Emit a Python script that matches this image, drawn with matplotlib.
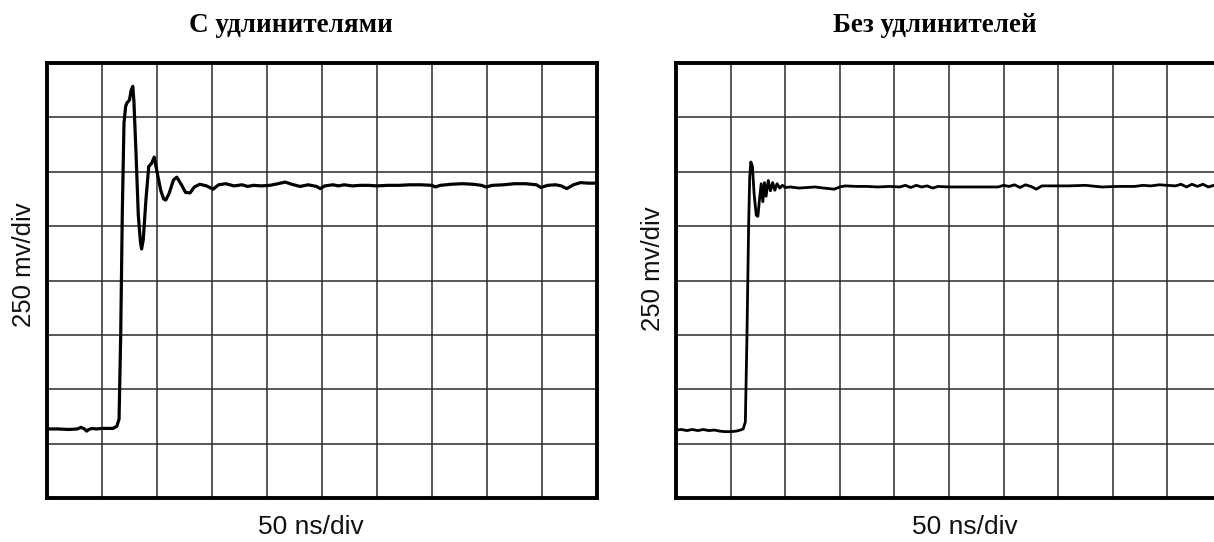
import matplotlib
matplotlib.use('Agg')
import matplotlib.pyplot as plt

# signal traces, in screen divisions (x: 50 ns/div, y: 250 mV/div)
titles = ['С удлинителями', 'Без удлинителей']
x_label = '50 ns/div'
y_label = '250 mv/div'

with_x = [0.0, 0.2, 0.4, 0.55, 0.62, 0.68, 0.72, 0.76, 0.82, 0.9, 1.0, 1.1, 1.2, 1.27,
          1.31, 1.34, 1.37, 1.40, 1.43, 1.45, 1.50, 1.53, 1.56, 1.58, 1.62, 1.66, 1.70,
          1.72, 1.75, 1.80, 1.85, 1.90, 1.95, 2.00, 2.07, 2.12, 2.16, 2.22, 2.30, 2.36,
          2.45, 2.52, 2.60, 2.68, 2.78, 2.90, 3.02, 3.12, 3.25, 3.40, 3.55, 3.65, 3.75,
          3.90, 4.05, 4.20, 4.33, 4.45, 4.60, 4.75, 4.90, 4.97, 5.05, 5.20, 5.30, 5.40,
          5.55, 5.70, 5.85, 6.00, 6.20, 6.40, 6.60, 6.80, 7.00, 7.06, 7.15, 7.35, 7.55,
          7.75, 7.90, 7.98, 8.10, 8.30, 8.50, 8.70, 8.90, 8.98, 9.10, 9.25, 9.35, 9.45,
          9.57, 9.70, 9.85, 10.0]
with_y = [1.27, 1.27, 1.26, 1.27, 1.30, 1.27, 1.23, 1.26, 1.28, 1.27, 1.28, 1.28, 1.28, 1.32,
          1.45, 3.00, 5.30, 6.90, 7.20, 7.26, 7.32, 7.50, 7.57, 7.30, 6.30, 5.20, 4.70,
          4.58, 4.75, 5.50, 6.10, 6.15, 6.27, 6.00, 5.65, 5.50, 5.48, 5.60, 5.85, 5.90,
          5.75, 5.62, 5.61, 5.72, 5.77, 5.74, 5.68, 5.76, 5.78, 5.74, 5.76, 5.73, 5.75,
          5.74, 5.75, 5.78, 5.81, 5.77, 5.73, 5.76, 5.73, 5.69, 5.74, 5.76, 5.74, 5.76,
          5.74, 5.75, 5.75, 5.74, 5.75, 5.75, 5.76, 5.76, 5.75, 5.72, 5.75, 5.77, 5.78,
          5.77, 5.75, 5.72, 5.75, 5.76, 5.78, 5.78, 5.76, 5.71, 5.75, 5.76, 5.74, 5.69,
          5.76, 5.80, 5.79, 5.79]

without_x = [0.0, 0.1, 0.2, 0.3, 0.4, 0.5, 0.6, 0.7, 0.8, 0.9, 1.0, 1.1, 1.18, 1.23,
             1.27, 1.30, 1.33, 1.35, 1.37, 1.40, 1.43, 1.47, 1.50, 1.53, 1.56, 1.59,
             1.62, 1.65, 1.69, 1.73, 1.77, 1.81, 1.85, 1.90, 1.95, 2.00, 2.10, 2.25,
             2.40, 2.55, 2.70, 2.80, 2.90, 3.00, 3.10, 3.30, 3.50, 3.70, 3.90, 4.10,
             4.20, 4.30, 4.40, 4.50, 4.60, 4.70, 4.80, 5.00, 5.30, 5.60, 5.90, 6.00,
             6.10, 6.20, 6.30, 6.40, 6.50, 6.60, 6.70, 6.90, 7.20, 7.50, 7.80, 8.10,
             8.40, 8.55, 8.70, 8.85, 9.00, 9.15, 9.25, 9.35, 9.45, 9.55, 9.65, 9.75,
             9.85, 10.0]
without_y = [1.25, 1.26, 1.24, 1.26, 1.24, 1.26, 1.24, 1.25, 1.23, 1.22, 1.22, 1.23, 1.25, 1.27,
             1.40, 3.00, 5.00, 5.90, 6.18, 6.10, 5.60, 5.20, 5.18, 5.50, 5.78, 5.45,
             5.80, 5.55, 5.84, 5.65, 5.80, 5.66, 5.78, 5.70, 5.75, 5.71, 5.72, 5.70,
             5.71, 5.72, 5.70, 5.69, 5.68, 5.72, 5.74, 5.73, 5.73, 5.72, 5.73, 5.72,
             5.75, 5.71, 5.75, 5.72, 5.74, 5.70, 5.73, 5.72, 5.72, 5.72, 5.72, 5.75,
             5.73, 5.76, 5.71, 5.76, 5.73, 5.68, 5.74, 5.74, 5.74, 5.75, 5.72, 5.73,
             5.73, 5.75, 5.74, 5.76, 5.75, 5.74, 5.77, 5.72, 5.77, 5.73, 5.77, 5.72,
             5.75, 5.73]

W, H = 1214, 542
fig = plt.figure(figsize=(W / 100, H / 100), dpi=100)


def add_panel(left_px, right_px, xs, ys, title, title_x, xlabel_x, ylabel_x, ylabel_y, lw):
    top_px, bottom_px = 63, 498
    ax = fig.add_axes([left_px / W, 1 - bottom_px / H,
                       (right_px - left_px) / W, (bottom_px - top_px) / H])
    ax.set_xlim(0, 10)
    ax.set_ylim(0, 8)
    ax.set_xticks(range(1, 10))
    ax.set_yticks(range(1, 8))
    ax.grid(True, color='#2a2a2a', linewidth=1.1)
    ax.tick_params(length=0, labelbottom=False, labelleft=False)
    for s in ax.spines.values():
        s.set_linewidth(2.8)
        s.set_color('black')
    ax.plot(xs, ys, color='black', linewidth=lw, solid_joinstyle='round')

    fig.text(title_x / W, 1 - 26 / H, title, ha='center', va='center',
             family='Liberation Serif', fontweight='bold', fontsize=19.5)
    fig.text(xlabel_x / W, 1 - 527 / H, x_label, ha='center', va='center',
             family='Liberation Sans', fontsize=19, color='#111111')
    fig.text(ylabel_x / W, 1 - ylabel_y / H, y_label, ha='center', va='center',
             rotation=90, family='Liberation Sans', fontsize=18.5, color='#111111')
    return ax


add_panel(47, 597, with_x, with_y, titles[0], 291, 311, 24.5, 265, 2.3)
add_panel(676, 1222, without_x, without_y, titles[1], 935, 965, 653, 269, 2.0)

fig.savefig('out.png', dpi=100, facecolor='white')
